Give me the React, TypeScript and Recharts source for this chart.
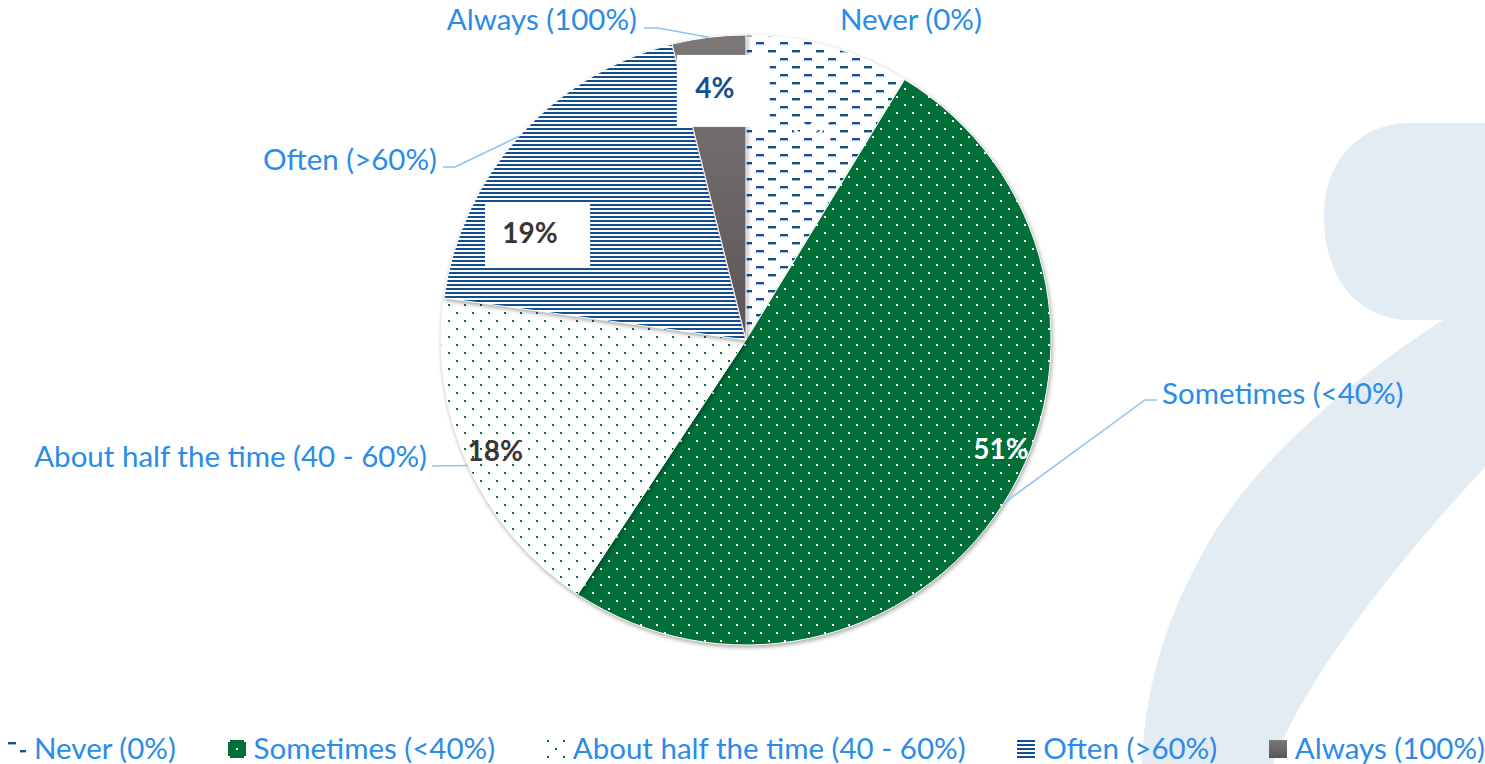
import React from 'react';
import { PieChart, Pie, Cell, Legend } from 'recharts';

// survey answers, clockwise from 12 o'clock
const categories = ['Never (0%)', 'Sometimes (<40%)', 'About half the time (40 - 60%)', 'Often (>60%)', 'Always (100%)'];
const shares = [8.7, 50.6, 17.9, 18.9, 3.9];
const pctLabels = ['9%', '51%', '18%', '19%', '4%'];

const data = categories.map((name, i) => ({ name, value: shares[i] }));

const BLUE = '#144F92';
const GREEN = '#016F38';
const LABEL_BLUE = '#2A8CE8';
const LEADER = '#8EC2F4';
const FONT = 'Lato, "Open Sans", sans-serif';

const FILLS = ['url(#pNever)', 'url(#pSometimes)', 'url(#pHalf)', 'url(#pOften)', 'url(#gAlways)'];

// hand-placed percentage labels (polar offset from the slice middle)
const PCT_LAYOUT: { dA: number; k: number; color: string; box?: number[] }[] = [
  { dA: -1.9, k: 0.715, color: '#ffffff' },
  { dA: 9.4, k: 0.908, color: '#ffffff' },
  { dA: -0.6, k: 0.898, color: '#3a3535' },
  { dA: 15.3, k: 0.792, color: '#3a3535', box: [-45, -29, 105, 65] },
  { dA: 0, k: 0.836, color: BLUE, box: [-38, -32, 93, 72] },
];

// category labels + leader elbows, relative to pie centre
const CAT_LAYOUT: { dx: number; dy: number; anchor: 'start' | 'end'; line: number[][] | null }[] = [
  { dx: 94, dy: -322, anchor: 'start', line: null },
  { dx: 416, dy: 52, anchor: 'start', line: [[399, 60], [411, 60]] },
  { dx: -319, dy: 115, anchor: 'end', line: [[-314, 126]] },
  { dx: -309, dy: -182, anchor: 'end', line: [[-291, -173], [-303, -173]] },
  { dx: -109, dy: -322, anchor: 'end', line: [[-88, -312], [-102, -312]] },
];

const RAD = Math.PI / 180;
const polar = (cx: number, cy: number, r: number, angle: number) => ({
  x: cx + r * Math.cos(-angle * RAD),
  y: cy + r * Math.sin(-angle * RAD),
});

const renderLabel = (props: any) => {
  const { cx, cy, midAngle, outerRadius, index } = props;
  const p = PCT_LAYOUT[index];
  const c = CAT_LAYOUT[index];
  const pp = polar(cx, cy, outerRadius * p.k, midAngle + p.dA);
  const edge = polar(cx, cy, outerRadius, midAngle);
  const pts = c.line
    ? [[edge.x, edge.y], ...c.line.map(([dx, dy]) => [cx + dx, cy + dy])].map((q) => q.join(',')).join(' ')
    : '';
  return (
    <g>
      {p.box && (
        <rect x={pp.x + p.box[0]} y={pp.y + p.box[1]} width={p.box[2]} height={p.box[3]} fill="#fff" />
      )}
      <text
        x={pp.x}
        y={pp.y}
        textAnchor="middle"
        dominantBaseline="central"
        fill={p.color}
        fontFamily={FONT}
        fontWeight={700}
        fontSize={28}
      >
        {pctLabels[index]}
      </text>
      {c.line && <polyline points={pts} fill="none" stroke={LEADER} strokeWidth={1.5} />}
      <text
        x={cx + c.dx}
        y={cy + c.dy}
        textAnchor={c.anchor}
        dominantBaseline="central"
        fill={LABEL_BLUE}
        fontFamily={FONT}
        fontSize={29.5}
      >
        {categories[index]}
      </text>
    </g>
  );
};

const renderLegend = (props: any) => {
  // keep the data order (recharts sorts the payload by name)
  const items = [...(props.payload || [])].sort(
    (a: any, b: any) => categories.indexOf(a.value) - categories.indexOf(b.value)
  );
  return (
    <div
      style={{
        display: 'flex',
        justifyContent: 'space-between',
        alignItems: 'center',
        paddingLeft: 8,
        height: 34,
        fontFamily: FONT,
        fontSize: 29.5,
        color: LABEL_BLUE,
        whiteSpace: 'nowrap',
      }}
    >
      {items.map((it: any) => {
        const i = categories.indexOf(it.value);
        return (
          <div key={it.value} style={{ display: 'flex', alignItems: 'center' }}>
            <svg width={18} height={18} style={{ marginRight: 8, marginTop: 3 }}>
              <rect width={18} height={18} fill={FILLS[i]} />
            </svg>
            <span>{it.value}</span>
          </div>
        );
      })}
    </div>
  );
};

export default function App() {
  return (
    <div style={{ position: 'absolute', left: 0, top: 0, width: 1485, height: 764, background: '#fff', overflow: 'hidden' }}>
      <svg width={1485} height={764} style={{ position: 'absolute', left: 0, top: 0 }}>
        <defs>
          <pattern id="pNever" patternUnits="userSpaceOnUse" width={24} height={16}>
            <rect width={24} height={16} fill="#fff" />
            <rect x={0} y={2} width={8} height={2.4} fill={BLUE} />
            <rect x={12} y={10} width={8} height={2.4} fill={BLUE} />
          </pattern>
          <pattern id="pSometimes" patternUnits="userSpaceOnUse" width={16} height={16}>
            <rect width={16} height={16} fill={GREEN} />
            <rect x={0} y={0} width={2} height={2} fill="#fff" />
            <rect x={8} y={8} width={2} height={2} fill="#fff" />
          </pattern>
          <pattern id="pHalf" patternUnits="userSpaceOnUse" width={16} height={16}>
            <rect width={16} height={16} fill="#fff" />
            <rect x={0} y={0} width={2} height={2} fill={GREEN} />
            <rect x={8} y={8} width={2} height={2} fill={GREEN} />
          </pattern>
          <pattern id="pOften" patternUnits="userSpaceOnUse" width={8} height={4}>
            <rect width={8} height={4} fill="#fff" />
            <rect x={0} y={0} width={8} height={2} fill={BLUE} />
          </pattern>
          <linearGradient id="gAlways" x1="0" y1="0" x2="0" y2="1">
            <stop offset="0%" stopColor="#7d7878" />
            <stop offset="100%" stopColor="#5b5555" />
          </linearGradient>
        </defs>
        {/* faint question-mark watermark */}
        <path
          d="M1485 123 L1410 123 C1360 123 1324 160 1324 217 C1324 280 1360 320 1410 320 L1443 320 C1380 360 1260 450 1207 545 C1170 610 1145 680 1142 764 L1273 764 C1300 690 1380 580 1485 467 Z"
          fill="#E3EBF3"
        />
      </svg>
      <div style={{ position: 'absolute', left: 0, top: 0 }}>
        <PieChart width={1485} height={764} margin={{ top: 0, right: 0, bottom: 0, left: 0 }}>
          <Pie
            data={data}
            dataKey="value"
            nameKey="name"
            cx={746}
            cy={340}
            outerRadius={305}
            startAngle={90}
            endAngle={-270}
            stroke="#fff"
            strokeWidth={1}
            label={renderLabel}
            labelLine={false}
            isAnimationActive={false}
          >
            {data.map((d, i) => (
              <Cell key={d.name} fill={FILLS[i]} style={{ filter: 'drop-shadow(1px 2px 2px rgba(0,0,0,0.35))' }} />
            ))}
          </Pie>
          <Legend content={renderLegend} verticalAlign="bottom" wrapperStyle={{ left: 0, width: 1485, bottom: 0 }} />
        </PieChart>
      </div>
    </div>
  );
}
